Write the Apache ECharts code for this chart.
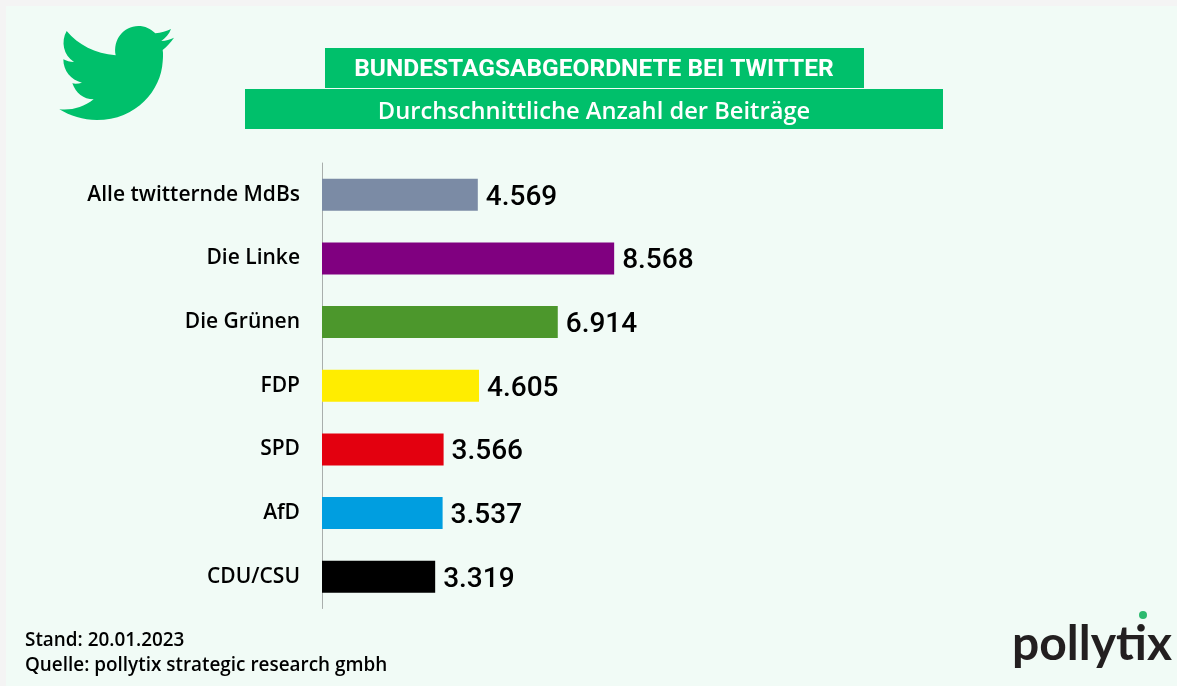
<!DOCTYPE html>
<html><head><meta charset="utf-8">
<script src="https://cdn.jsdelivr.net/npm/echarts@6/dist/echarts.min.js"></script>
<style>html,body{margin:0;padding:0;background:#f4f4f4;overflow:hidden}#c{width:1177px;height:686px}</style>
</head><body><div id="c"></div>
<script>
const categories = ["Alle twitternde MdBs","Die Linke","Die Grünen","FDP","SPD","AfD","CDU/CSU"];
const values = [4569,8568,6914,4605,3566,3537,3319];
const barColors = ["#7b8ba5","#800080","#4c972c","#ffed00","#e3000f","#009ee0","#000000"];
const titleMain = "BUNDESTAGSABGEORDNETE BEI TWITTER";
const titleSub = "Durchschnittliche Anzahl der Beiträge";
const footer = ["Stand: 20.01.2023","Quelle: pollytix strategic research gmbh"];
const GREEN = "#00c06b";
const FONT = "Roboto";
const FONT2 = "'Open Sans'";
const bird = "M200 93C235 135 285 160 347 166C338 120 370 78 415 78C435 78 452 86 466 100C483 98 500 94 513 87C507 103 497 114 484 123C498 122 510 119 522 113C512 128 500 140 488 150C490 160 489 175 488 185C483 270 410 360 290 360C250 360 210 348 178 328C215 332 250 322 281 298C250 298 228 280 217 250C226 252 236 251 246 248C212 240 190 212 190 178C199 183 210 186 222 186C190 165 182 125 200 93Z";
echarts.graphic.registerShape('twitterBird', echarts.graphic.extendPath(bird));
const chart = echarts.init(document.getElementById('c'),null,{renderer:'canvas'});
const fmt = v => String(v).replace(/\B(?=(\d{3})+$)/g,'.');
chart.setOption({
  animation:false,
  backgroundColor:'#f4f4f4',
  grid:{left:322,top:163,width:341,height:445.5,containLabel:false},
  xAxis:{type:'value',min:0,max:10000,show:false},
  yAxis:{type:'category',inverse:true,data:categories,
    axisLine:{show:true,lineStyle:{color:'#a9aeac',width:1}},
    axisTick:{show:false},
    axisLabel:{margin:22,color:'#000',fontFamily:FONT2,fontSize:21,fontWeight:600,padding:[3,0,0,0]}},
  series:[{type:'bar',barWidth:32,z:3,
    data:values.map((v,i)=>({value:v,itemStyle:{color:barColors[i]}})),
    label:{show:true,position:'right',distance:8,offset:[0,3],color:'#000',fontFamily:FONT,fontSize:28,fontWeight:500,formatter:p=>fmt(p.value)}}],
  graphic:[
    {type:'rect',z:-10,silent:true,shape:{x:6,y:6,width:1171,height:680},style:{fill:'#f1fbf6'}},
    {type:'twitterBird',x:0,y:0,scaleX:1/3,scaleY:1/3,style:{fill:GREEN},z:5},
    {type:'rect',shape:{x:325,y:48,width:539,height:40},style:{fill:GREEN},z:5},
    {type:'rect',shape:{x:245,y:89,width:698,height:40},style:{fill:GREEN},z:5},
    {type:'text',z:6,x:594,y:70,style:{text:titleMain,fill:'#fff',font:'700 24.5px '+FONT,textAlign:'center',textVerticalAlign:'middle'}},
    {type:'text',z:6,x:594,y:112,style:{text:titleSub,fill:'#fff',font:'600 23.7px '+FONT2,textAlign:'center',textVerticalAlign:'middle'}},
    {type:'text',z:6,x:25,y:641,style:{text:footer[0],fill:'#000',font:'600 18.9px '+FONT2,textAlign:'left',textVerticalAlign:'middle'}},
    {type:'text',z:6,x:25,y:666,style:{text:footer[1],fill:'#000',font:'600 18.9px '+FONT2,textAlign:'left',textVerticalAlign:'middle'}},
    {type:'text',z:6,x:1012,y:645,style:{text:'pollytix',fill:'#231f20',font:'700 48px Lato',textAlign:'left',textVerticalAlign:'middle'}},
    {type:'circle',z:6,shape:{cx:1143,cy:615,r:4},style:{fill:'#2dba6f'}}
  ]
});
</script></body></html>
